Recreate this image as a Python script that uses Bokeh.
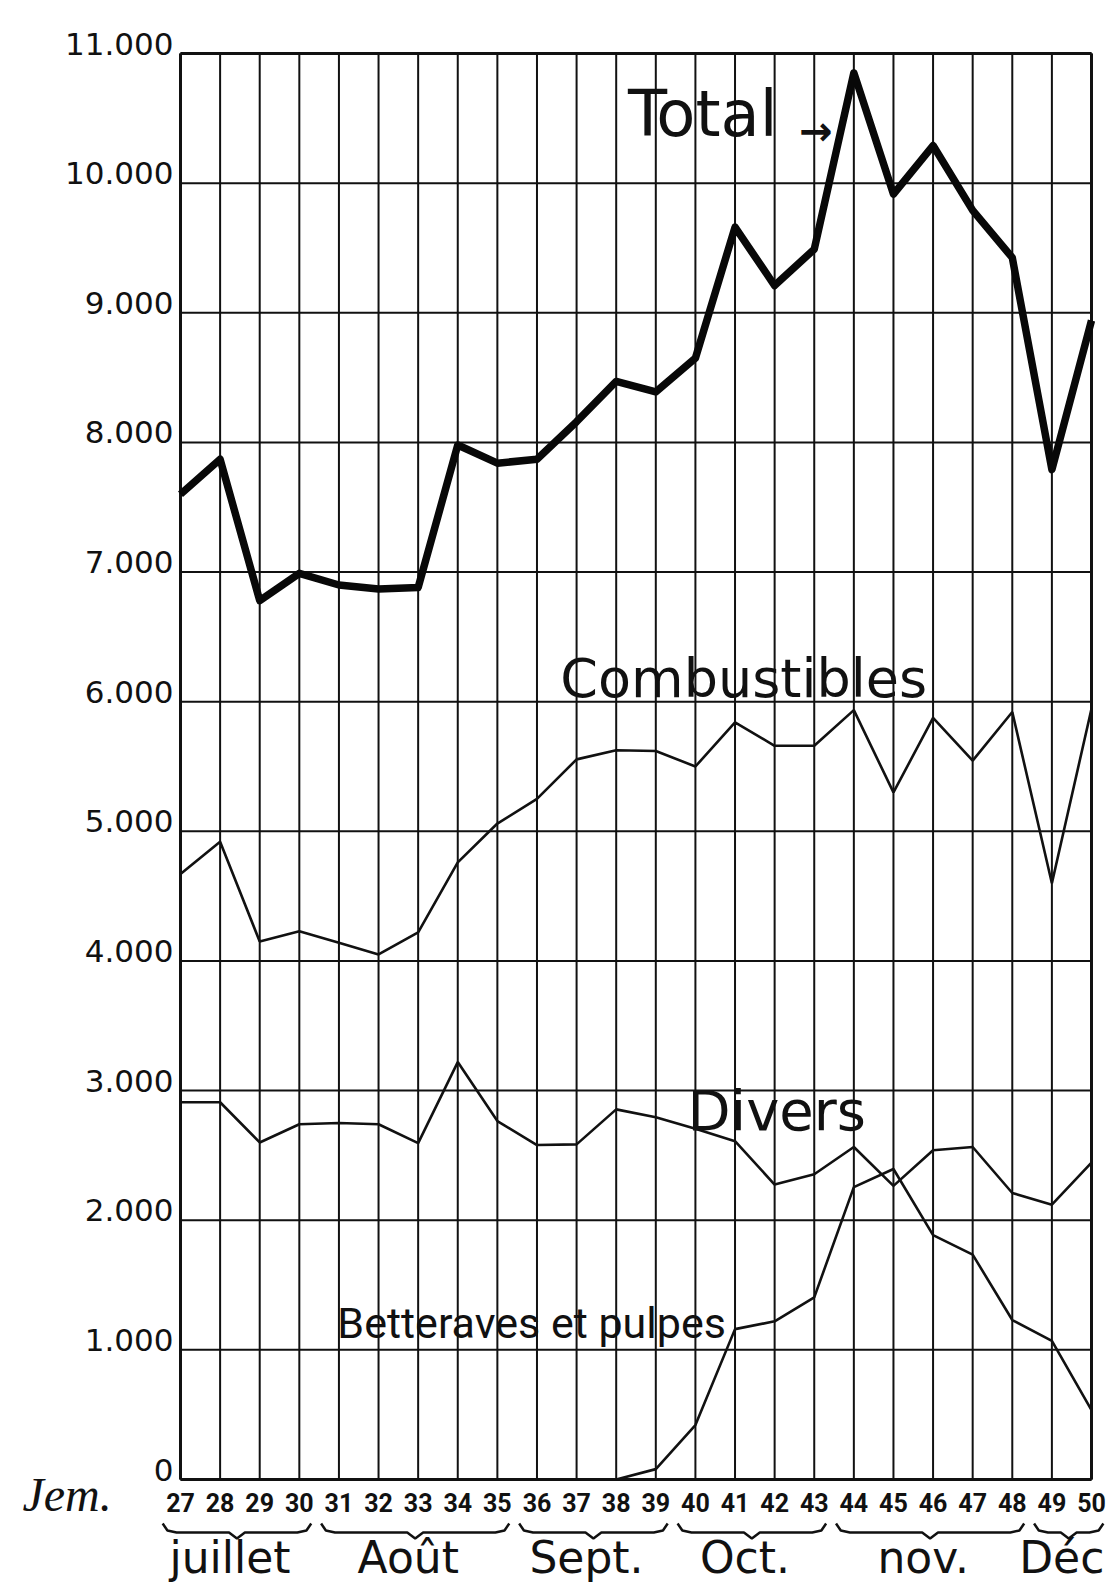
import numpy as np
from bokeh.plotting import figure
from bokeh.models import Range1d, ColumnDataSource
from bokeh.embed import file_html
from bokeh.resources import INLINE
from bokeh.core.properties import value

# ---------------- data ----------------
weeks = list(range(27, 51))
total = [7600, 7870, 6780, 6990, 6900, 6870, 6880, 7980, 7840, 7870, 8160, 8470,
         8390, 8650, 9660, 9210, 9490, 10850, 9915, 10290, 9790, 9425, 7790, 8940]
combustibles = [4670, 4920, 4150, 4230, 4140, 4050, 4220, 4760, 5060, 5250, 5555, 5625,
                5620, 5500, 5840, 5660, 5660, 5935, 5300, 5875, 5545, 5920, 4600, 5945]
divers = [2910, 2910, 2600, 2740, 2750, 2740, 2595, 3220, 2765, 2580, 2585, 2855,
          2795, 2705, 2610, 2275, 2355, 2565, 2265, 2540, 2565, 2210, 2120, 2445]
betteraves = [np.nan] * 11 + [0, 80, 420, 1160, 1220, 1405, 2255, 2395, 1885, 1735,
                              1230, 1070, 535]

y_ticks = [0, 1000, 2000, 3000, 4000, 5000, 6000, 7000, 8000, 9000, 10000, 11000]
y_tick_labels = ["0", "1.000", "2.000", "3.000", "4.000", "5.000", "6.000",
                 "7.000", "8.000", "9.000", "10.000", "11.000"]
week_labels = [str(w) for w in weeks]

months = ["juillet", "Août", "Sept.", "Oct.", "nov.", "Déc"]
month_first = [27, 31, 36, 40, 44, 49]
month_last = [30, 35, 39, 43, 48, 50]

# ---------------- layout (pixels) ----------------
W, H = 1115, 1584
X_LEFT, X_RIGHT = 180, 1091        # page x of week 27 / week 50
Y_TOP, Y_BOT = 53, 1479            # page y of 11000 / 0
INK = "#111111"
FONT = "DejaVu Sans"

ppw = (X_RIGHT - X_LEFT) / (weeks[-1] - weeks[0])      # px per week
ppu = (Y_BOT - Y_TOP) / (y_ticks[-1] - y_ticks[0])     # px per unit
x_lo = weeks[0] - X_LEFT / ppw
x_hi = weeks[-1] + (W - X_RIGHT) / ppw
y_hi = y_ticks[-1] + Y_TOP / ppu
y_lo = y_ticks[0] - (H - Y_BOT) / ppu


def dx(px):
    return px / ppw


def dy(px):
    return px / ppu


p = figure(width=W, height=H, x_range=Range1d(x_lo, x_hi), y_range=Range1d(y_lo, y_hi),
           output_backend="svg", toolbar_location=None, x_axis_location=None,
           y_axis_location=None, min_border=0)
p.outline_line_color = None
p.grid.visible = False
p.background_fill_color = "white"
p.border_fill_color = "white"

x0, x1 = weeks[0], weeks[-1]
y0, y1 = y_ticks[0], y_ticks[-1]

# grid (horizontal and vertical rules) and frame
p.segment(x0=[x0] * len(y_ticks), y0=y_ticks, x1=[x1] * len(y_ticks), y1=y_ticks,
          line_color=INK, line_width=2)
p.segment(x0=weeks, y0=[y0] * len(weeks), x1=weeks, y1=[y1] * len(weeks),
          line_color=INK, line_width=2)
p.segment(x0=[x0, x1, x0, x0], y0=[y0, y0, y0, y1], x1=[x0, x1, x1, x1], y1=[y1, y1, y0, y1],
          line_color=INK, line_width=3)

# series
src = ColumnDataSource(dict(week=weeks, total=total, comb=combustibles,
                            div=divers, bett=np.array(betteraves, dtype=float)))
p.line("week", "comb", source=src, line_width=2.6, line_color=INK)
p.line("week", "div", source=src, line_width=2.6, line_color=INK)
p.line("week", "bett", source=src, line_width=2.6, line_color=INK)
p.line("week", "total", source=src, line_width=7.5, line_color="#080808", line_join="round")

# y tick labels (sitting just above their rule)
p.text(x=[x0 - dx(7)] * len(y_ticks), y=[t + dy(10) for t in y_ticks], text=y_tick_labels,
       text_font=value(FONT), text_font_size="31px", text_align="right",
       text_baseline="middle", text_color=INK)

# week numbers, "Sem." marker
p.text(x=weeks, y=[y0 - dy(23)] * len(weeks), text=week_labels, text_font=value("Roboto"),
       text_font_style="bold", text_font_size="25px", text_align="center",
       text_baseline="middle", text_color=INK)
p.text(x=[x0 - dx(X_LEFT - 22)], y=[y0 - dy(15)], text=["Jem."],
       text_font=value("Liberation Serif"), text_font_style="italic",
       text_font_size="48px", text_align="left", text_baseline="middle", text_color=INK)

# month braces and names
bx, by, mx = [], [], []
prof = [44, 51, 53, 53, 59, 53, 53, 51, 44]
for a, b in zip(month_first, month_last):
    s, e = a - 0.45, b + 0.3
    m = (s + e) / 2
    bx.append([s, s + 0.12, s + 0.35, m - 0.2, m, m + 0.2, e - 0.35, e - 0.12, e])
    by.append([y0 - dy(v) for v in prof])
    mx.append((a + b) / 2 - 0.25)
p.multi_line(xs=bx, ys=by, line_color=INK, line_width=2.5)
p.text(x=mx, y=[y0 - dy(78)] * len(months), text=months, text_font=value(FONT),
       text_font_size="44px", text_align="center", text_baseline="middle", text_color=INK)

# series labels
p.text(x=[38.30], y=[10530], text=["Total"], text_font=value(FONT), text_font_size="64px",
       text_align="left", text_baseline="middle", text_color=INK)
p.text(x=[42.62], y=[10400], text=["→"], text_font=value(FONT), text_font_style="bold",
       text_font_size="40px", text_align="left", text_baseline="middle", text_color=INK)
p.text(x=[36.59], y=[6180], text=["Combustibles"], text_font=value(FONT), text_font_size="54px",
       text_align="left", text_baseline="middle", text_color=INK)
p.text(x=[39.80], y=[2850], text=["Divers"], text_font=value(FONT), text_font_size="56px",
       text_align="left", text_baseline="middle", text_color=INK)
p.text(x=[30.96], y=[1205], text=["Betteraves et pulpes"], text_font=value("Roboto"),
       text_font_size="43px", text_align="left", text_baseline="middle", text_color=INK)

open("out.html", "w").write(file_html(p, INLINE))
